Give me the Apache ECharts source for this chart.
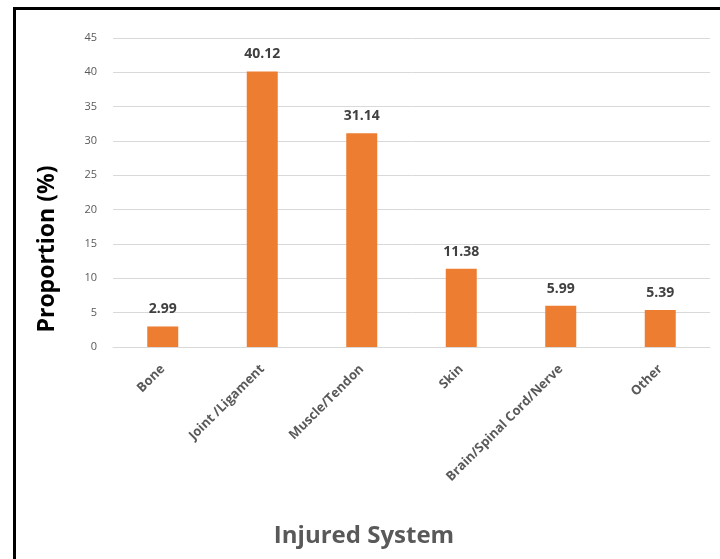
<!DOCTYPE html>
<html>
<head>
<meta charset="utf-8">
<script src="https://cdn.jsdelivr.net/npm/echarts@6/dist/echarts.min.js"></script>
<style>
  html, body { margin: 0; padding: 0; background: #fff; overflow: hidden; }
  #frame { position: absolute; left: 13px; top: 7px; width: 720px; height: 600px; border: 3px solid #000; box-sizing: border-box; }
  #chart { position: absolute; left: 0; top: 0; width: 720px; height: 559px; }
</style>
</head>
<body>
<div id="frame"></div>
<div id="chart"></div>
<script>
// injured system categories and proportion values (%)
const categories = ["Bone", "Joint /Ligament", "Muscle/Tendon", "Skin", "Brain/Spinal Cord/Nerve", "Other"];
const proportions = [2.99, 40.12, 31.14, 11.38, 5.99, 5.39];
const yTicks = [0, 5, 10, 15, 20, 25, 30, 35, 40, 45];

const myChart = echarts.init(document.getElementById("chart"));
const option = {
  animation: false,
  grid: { left: 113, right: 10, top: 38, bottom: 212 },
  xAxis: {
    type: "category",
    data: categories,
    axisLine: { lineStyle: { color: "#d9d9d9" } },
    axisTick: { show: false },
    axisLabel: {
      interval: 0,
      rotate: 45,
      margin: 20,
      color: "#595959",
      fontFamily: "Open Sans",
      fontWeight: "bold",
      fontSize: 13,
    },
  },
  yAxis: {
    type: "value",
    min: yTicks[0],
    max: yTicks[yTicks.length - 1],
    interval: 5,
    axisLine: { show: false },
    axisTick: { show: false },
    splitLine: { lineStyle: { color: "#d9d9d9" } },
    axisLabel: {
      margin: 16,
      color: "#595959",
      fontFamily: "Open Sans",
      fontSize: 11,
    },
  },
  graphic: [
    {
      type: "text",
      x: 47,
      y: 249,
      rotation: Math.PI / 2,
      style: {
        text: "Proportion (%)",
        font: "bold 23px 'Open Sans'",
        fill: "#000",
        align: "center",
        verticalAlign: "middle",
      },
    },
    {
      type: "text",
      x: 364,
      y: 536,
      style: {
        text: "Injured System",
        font: "bold 24px 'Open Sans'",
        fill: "#595959",
        align: "center",
        verticalAlign: "middle",
      },
    },
  ],
  series: [
    {
      type: "bar",
      data: proportions,
      barWidth: 31,
      itemStyle: { color: "#ED7D31" },
      label: {
        show: true,
        position: "top",
        distance: 10,
        color: "#404040",
        fontFamily: "Open Sans",
        fontWeight: "bold",
        fontSize: 14,
        formatter: (p) => p.value.toFixed(2),
      },
    },
  ],
};
myChart.setOption(option);
</script>
</body>
</html>
